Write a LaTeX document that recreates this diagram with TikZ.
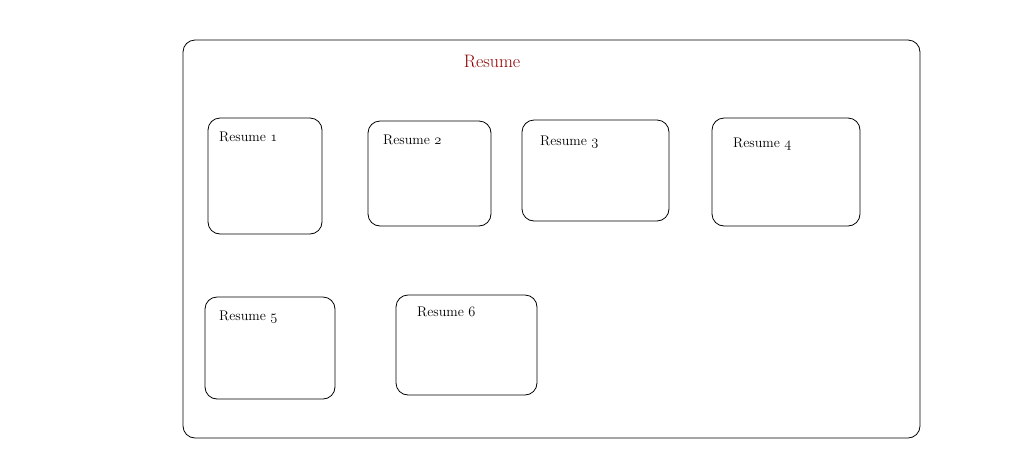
\documentclass[tikz,border=0pt]{standalone}
\usepackage{fontspec}
\setmainfont{Latin Modern Roman}
\usepackage{tikz}
\usepackage{xcolor}
\definecolor{titlered}{RGB}{140,0,0}
\newcommand{\resnum}[1]{{\usefont{OML}{cmm}{m}{it}#1}}

\tikzset{
  resbox/.style={draw,rounded corners=12pt,line width=0.8pt},
  reslabel/.style={anchor=west,inner sep=0pt,font=\fontsize{14}{16}\selectfont}
}

\begin{document}
\begin{tikzpicture}[x=1pt,y=-1pt]
  \useasboundingbox (0,0) rectangle (1023,475);
  % outer frame
  \draw[resbox] (183,40) rectangle (920,438);
  \node[text=titlered,font=\fontsize{18}{20}\selectfont] (title) at (492,61) {Resume};
  % first row
  \draw[resbox] (208,118) rectangle (322,234);
  \draw[resbox] (368,121) rectangle (491,226);
  \draw[resbox] (522,120) rectangle (669,221);
  \draw[resbox] (712,118) rectangle (860,226);
  % second row
  \draw[resbox] (205,297) rectangle (335,399);
  \draw[resbox] (396,295) rectangle (537,395);
  % labels
  \node[reslabel] (r1) at (219,137) {Resume \resnum{1}};
  \node[reslabel] (r2) at (383,140) {Resume \resnum{2}};
  \node[reslabel] (r3) at (540,142) {Resume \resnum{3}};
  \node[reslabel] (r4) at (733,144) {Resume \resnum{4}};
  \node[reslabel] (r5) at (219,317) {Resume \resnum{5}};
  \node[reslabel] (r6) at (417,312) {Resume \resnum{6}};
\end{tikzpicture}
\end{document}
